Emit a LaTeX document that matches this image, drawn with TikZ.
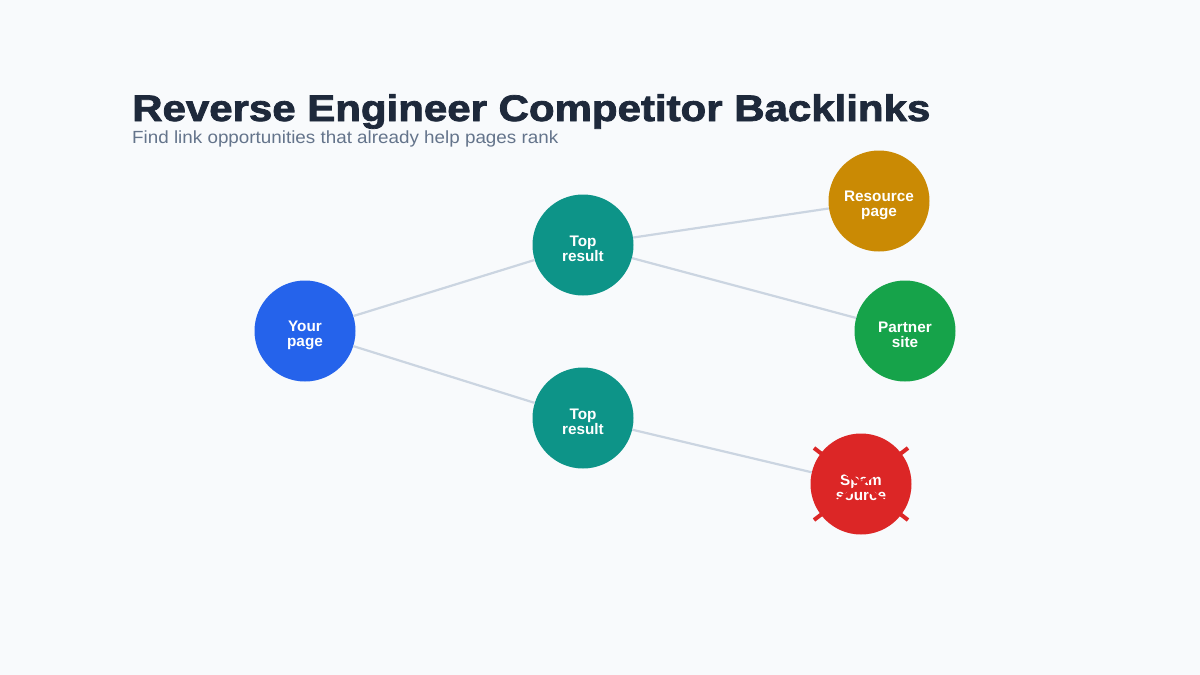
\documentclass[tikz,border=0pt]{standalone}
\usepackage{fontspec}
\setmainfont{Liberation Sans}
\newfontfamily\titlefont[FakeBold=2]{Liberation Sans Bold}
\definecolor{bg}{HTML}{F8FAFC}
\definecolor{titlec}{HTML}{1E293B}
\definecolor{subc}{HTML}{64748B}
\definecolor{edgec}{HTML}{CBD5E1}
\definecolor{cblue}{HTML}{2563EB}
\definecolor{cteal}{HTML}{0D9488}
\definecolor{camber}{HTML}{CA8A04}
\definecolor{cgreen}{HTML}{16A34A}
\definecolor{cred}{HTML}{DC2626}
\tikzset{
  pnode/.style={circle, minimum size=101pt, inner sep=0pt,
    label={[text=white, align=center, yshift=-4pt,
    font=\bfseries\fontsize{15.3}{15}\selectfont]center:#1}},
  link/.style={draw=edgec, line width=2.2pt},
  cross/.style={draw=cred, line width=4pt}
}
\begin{document}
\begin{tikzpicture}[x=1pt,y=-1pt]
\fill[bg] (0,0) rectangle (1200,675);
\useasboundingbox (0,0) rectangle (1200,675);
\node[anchor=base west, text=titlec, inner sep=0pt, xscale=1.135, font=\titlefont\fontsize{37}{37}\selectfont] (title) at (132,121) {Reverse Engineer Competitor Backlinks};
\node[anchor=base west, text=subc, inner sep=0pt, xscale=1.07, font=\fontsize{17.6}{18}\selectfont] (sub) at (132,143) {Find link opportunities that already help pages rank};
\node[pnode={Your\\page}, fill=cblue] (your) at (305,331) {};
\node[pnode={Top\\result}, fill=cteal] (top1) at (583,245) {};
\node[pnode={Top\\result}, fill=cteal] (top2) at (583,418) {};
\node[pnode={Resource\\page}, fill=camber] (res) at (879,201) {};
\node[pnode={Partner\\site}, fill=cgreen] (part) at (905,331) {};
\node[pnode={Spam\\source}, fill=cred] (spam) at (861,484) {};
\draw[link] (your) -- (top1);
\draw[link] (your) -- (top2);
\draw[link] (top1) -- (res);
\draw[link] (top1) -- (part);
\draw[link] (top2) -- (spam);
\coordinate (x1) at (814,448);
\coordinate (x2) at (908,520);
\coordinate (x3) at (814,520);
\coordinate (x4) at (908,448);
\draw[cross] (x1) -- (x2);
\draw[cross] (x3) -- (x4);
\end{tikzpicture}
\end{document}
